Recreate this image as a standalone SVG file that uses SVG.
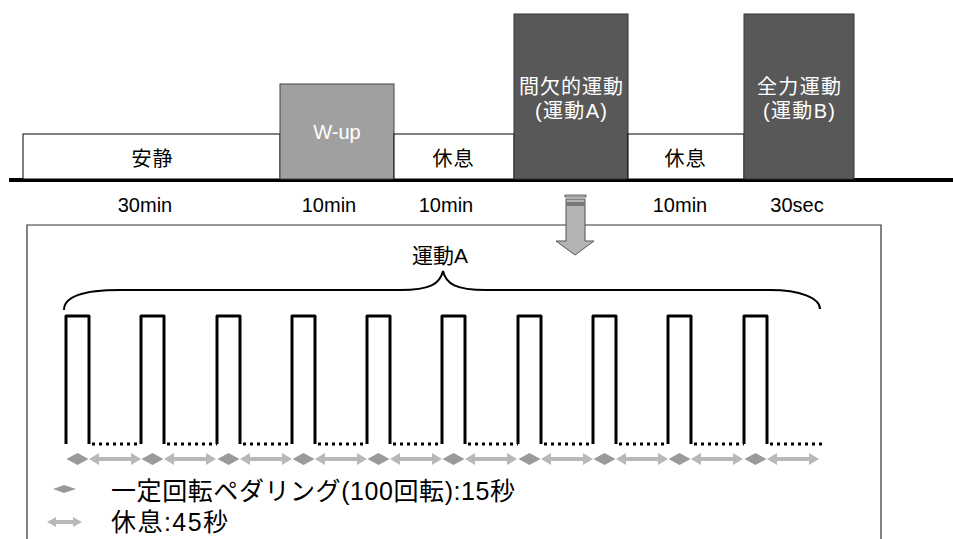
<svg xmlns="http://www.w3.org/2000/svg" width="953" height="539" viewBox="0 0 953 539">
<style>
text{font-family:"Liberation Sans","Noto Sans CJK JP",sans-serif;fill:#000}
.lbl{font-size:20px;text-anchor:middle}
.wt{fill:#fff}
.dur{font-size:20px;text-anchor:middle}
.wbox{fill:#fff;stroke:#000;stroke-width:1}
.lg{fill:#a0a0a0;stroke:#444;stroke-width:1}
.dg{fill:#595859;stroke:#333;stroke-width:1}
.pulse{fill:none;stroke:#000;stroke-width:3;stroke-linejoin:round}
.dot{fill:none;stroke:#000;stroke-width:3;stroke-dasharray:3 4}
.dia{fill:#9a9a9a}
.arr{fill:#b8b8b8}
.leg{font-size:25px}
</style>
<defs>
<polygon id="dbl" points="0,0 10,-6 10,-2 42,-2 42,-6 52,0 42,6 42,2 10,2 10,6"/>
<polygon id="dmd" points="-11,0 0,-6 11,0 0,6"/>
</defs>

<g id="timeline">
<line x1="9" y1="180" x2="953" y2="180" stroke="#000" stroke-width="4"/>
</g>
<g id="rest">
<rect class="wbox" x="23" y="134" width="257" height="45"/>
<text class="lbl" x="152" y="166" textLength="41">安静</text>
</g>
<g id="wup">
<rect class="lg" x="280" y="84" width="114" height="95"/>
<text class="lbl wt" x="337" y="139">W-up</text>
</g>
<g id="rest1">
<rect class="wbox" x="394" y="134" width="120" height="45"/>
<text class="lbl" x="453" y="166" textLength="41">休息</text>
</g>
<g id="exA">
<rect class="dg" x="514" y="14" width="114" height="165"/>
<text class="lbl wt" x="571" y="94" textLength="104">間欠的運動</text>
<text class="lbl wt" x="571" y="118" textLength="72">(運動A)</text>
</g>
<g id="rest2">
<rect class="wbox" x="628" y="134" width="116" height="45"/>
<text class="lbl" x="685" y="166" textLength="41">休息</text>
</g>
<g id="exB">
<rect class="dg" x="744" y="14" width="110" height="165"/>
<text class="lbl wt" x="799" y="94" textLength="84">全力運動</text>
<text class="lbl wt" x="799" y="118" textLength="72">(運動B)</text>
</g>
<g id="durations">
<text class="dur" x="145" y="212">30min</text>
<text class="dur" x="329" y="212">10min</text>
<text class="dur" x="446" y="212">10min</text>
<text class="dur" x="680" y="212">10min</text>
<text class="dur" x="797" y="212">30sec</text>
</g>

<g id="detail">
<path d="M27,539 V225 H881 V539" fill="none" stroke="#333" stroke-width="1.2"/>
<text x="440" y="263" style="font-size:21px;text-anchor:middle">運動A</text>
<path d="M64,310 C64,298 80,290 120,290 L400,290 C430,290 440,284 443,271 C446,284 456,290 486,290 L770,290 C800,290 820,298 820,309" fill="none" stroke="#000" stroke-width="2"/>
</g>

<g id="connectors">
<g id="wave">
<path class="pulse" d="M66,444 V316 H89 V444 M141,444 V316 H164 V444 M217,444 V316 H240 V444 M292,444 V316 H315 V444 M367,444 V316 H390 V444 M442,444 V316 H465 V444 M518,444 V316 H541 V444 M593,444 V316 H616 V444 M668,444 V316 H691 V444 M744,444 V316 H767 V444"/>
<path class="dot" d="M92,444 H141 M167,444 H217 M243,444 H292 M318,444 H367 M393,444 H442 M468,444 H518 M544,444 H593 M619,444 H668 M694,444 H744 M770,444 H822"/>
</g>
<g id="marks">
<use href="#dmd" class="dia" x="77.5" y="459"/>
<use href="#dmd" class="dia" x="152.5" y="459"/>
<use href="#dmd" class="dia" x="228.5" y="459"/>
<use href="#dmd" class="dia" x="303.5" y="459"/>
<use href="#dmd" class="dia" x="378.5" y="459"/>
<use href="#dmd" class="dia" x="453.5" y="459"/>
<use href="#dmd" class="dia" x="529.5" y="459"/>
<use href="#dmd" class="dia" x="604.5" y="459"/>
<use href="#dmd" class="dia" x="679.5" y="459"/>
<use href="#dmd" class="dia" x="755.5" y="459"/>
<use href="#dbl" class="arr" x="89" y="459"/>
<use href="#dbl" class="arr" x="164" y="459"/>
<use href="#dbl" class="arr" x="240" y="459"/>
<use href="#dbl" class="arr" x="315" y="459"/>
<use href="#dbl" class="arr" x="390" y="459"/>
<use href="#dbl" class="arr" x="465" y="459"/>
<use href="#dbl" class="arr" x="541" y="459"/>
<use href="#dbl" class="arr" x="616" y="459"/>
<use href="#dbl" class="arr" x="691" y="459"/>
<use href="#dbl" class="arr" x="767" y="459"/>
</g>
<g id="downarrow">
<rect x="565" y="195" width="21" height="2" fill="#ccc" stroke="#444" stroke-width="0.8"/>
<path d="M566,199 H585 V241 H594 L575,255 L556,241 H566 Z" fill="#b4b4b4" stroke="#555" stroke-width="1"/>
<rect x="566" y="202" width="19" height="4" fill="#777"/>
</g>
</g>

<g id="legend">
<polygon class="dia" points="53,489 64,485 76,489 64,493"/>
<text class="leg" x="111" y="500" textLength="404">一定回転ペダリング(100回転):15秒</text>
<polygon class="arr" points="47,522 56,517 56,520 73,520 73,517 82,522 73,527 73,524 56,524 56,527"/>
<text class="leg" x="111" y="531" textLength="117">休息:45秒</text>
</g>
</svg>
